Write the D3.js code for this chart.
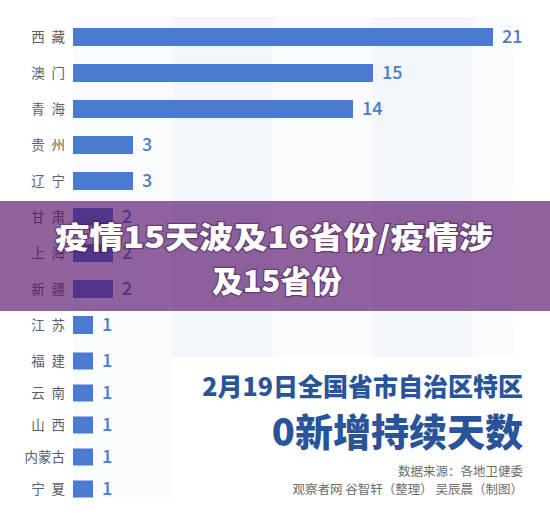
<!DOCTYPE html>
<html>
<head>
<meta charset="utf-8">
<script src="https://cdn.jsdelivr.net/npm/d3@7"></script>
<style>
  body { margin: 0; background: #fff; }
  svg { display: block; font-family: "Noto Sans CJK SC", "Noto Sans", sans-serif; }
</style>
</head>
<body>
<svg id="chart" width="550" height="518"></svg>
<script>
const provinces = ['西藏', '澳门', '青海', '贵州', '辽宁', '甘肃', '上海', '新疆',
  '江苏', '福建', '云南', '山西', '内蒙古', '宁夏'];
const days = [21, 15, 14, 3, 3, 2, 2, 2, 1, 1, 1, 1, 1, 1];
const gridSteps = [0, 5, 10, 15, 20, 22];

const bannerLines = ['疫情15天波及16省份/疫情涉', '及15省份'];
const titleLines = ['2月19日全国省市自治区特区', '0新增持续天数'];
const sourceLines = ['数据来源：各地卫健委', '观察者网 谷智轩（整理） 吴辰晨（制图）'];

const BAR = '#4a7bcc';

const svg = d3.select('#chart');

const x = d3.scaleLinear().domain([0, 21]).range([73, 493]);
// rows are a bit tighter below 福建 in the original
const y = d3.scaleLinear().domain([0, 9, 13]).range([37, 361, 489]);

// background column bands
const bands = d3.pairs(gridSteps);
svg.append('g')
  .selectAll('rect')
  .data(bands)
  .join('rect')
  .attr('x', d => x(d[0]))
  .attr('width', d => x(d[1]) - x(d[0]))
  .attr('y', 17)
  .attr('height', 481)
  .attr('fill', (d, i) => i % 2 ? '#f2f6fb' : '#fafbfd');

// rows
const rows = svg.append('g')
  .selectAll('g')
  .data(provinces)
  .join('g')
  .attr('transform', (d, i) => `translate(0,${y(i)})`);

rows.append('rect')
  .attr('x', x(0))
  .attr('y', (d, i) => i < 9 ? -9 : -8.5)
  .attr('height', (d, i) => i < 9 ? 18 : 17)
  .attr('width', (d, i) => x(days[i]) - x(0))
  .attr('fill', BAR);

rows.append('text')
  .attr('x', 65)
  .attr('dy', '0.35em')
  .attr('text-anchor', 'end')
  .style('font-size', '13.5px')
  .attr('fill', '#5a5f68')
  .text(d => d.length === 2 ? d[0] + '\u2002' + d[1] : d);

rows.append('text')
  .attr('x', (d, i) => x(days[i]) + 9)
  .attr('dy', '0.36em')
  .style('font-size', '18px')
  .style('font-weight', '500')
  .attr('fill', BAR)
  .text((d, i) => days[i]);

// white title card over the lower right
svg.append('rect')
  .attr('x', x(5))
  .attr('y', 357)
  .attr('width', 550 - x(5))
  .attr('height', 161)
  .attr('fill', '#fff');

const title = svg.append('g').attr('text-anchor', 'end').attr('fill', '#2a5499');
title.append('text')
  .attr('x', 523).attr('y', 396)
  .style('font-size', '25px').style('font-weight', '900')
  .text(titleLines[0]);
title.append('text')
  .attr('x', 523).attr('y', 446)
  .style('font-size', '38px').style('font-weight', '900')
  .text(titleLines[1]);

svg.append('g')
  .attr('text-anchor', 'end')
  .attr('fill', '#6b6b6b')
  .style('font-size', '12.5px')
  .selectAll('text')
  .data(sourceLines)
  .join('text')
  .attr('x', 523)
  .attr('y', (d, i) => 476 + i * 18)
  .text(d => d);

// purple banner overlay
svg.append('rect')
  .attr('x', 0).attr('y', 201)
  .attr('width', 550).attr('height', 110)
  .attr('fill', 'rgb(85,16,105)')
  .attr('fill-opacity', 0.65);

svg.append('g')
  .attr('text-anchor', 'middle')
  .attr('fill', '#fff')
  .style('font-size', '30px')
  .style('font-weight', '900')
  .style('paint-order', 'stroke')
  .attr('stroke', 'rgba(50,10,60,0.45)')
  .attr('stroke-width', 2.5)
  .selectAll('text')
  .data(bannerLines)
  .join('text')
  .attr('x', (d, i) => i ? 277 : 274)
  .attr('y', (d, i) => i ? 292 : 248)
  .attr('textLength', (d, i) => i ? 130 : 438)
  .attr('lengthAdjust', 'spacingAndGlyphs')
  .text(d => d);
</script>
</body>
</html>
